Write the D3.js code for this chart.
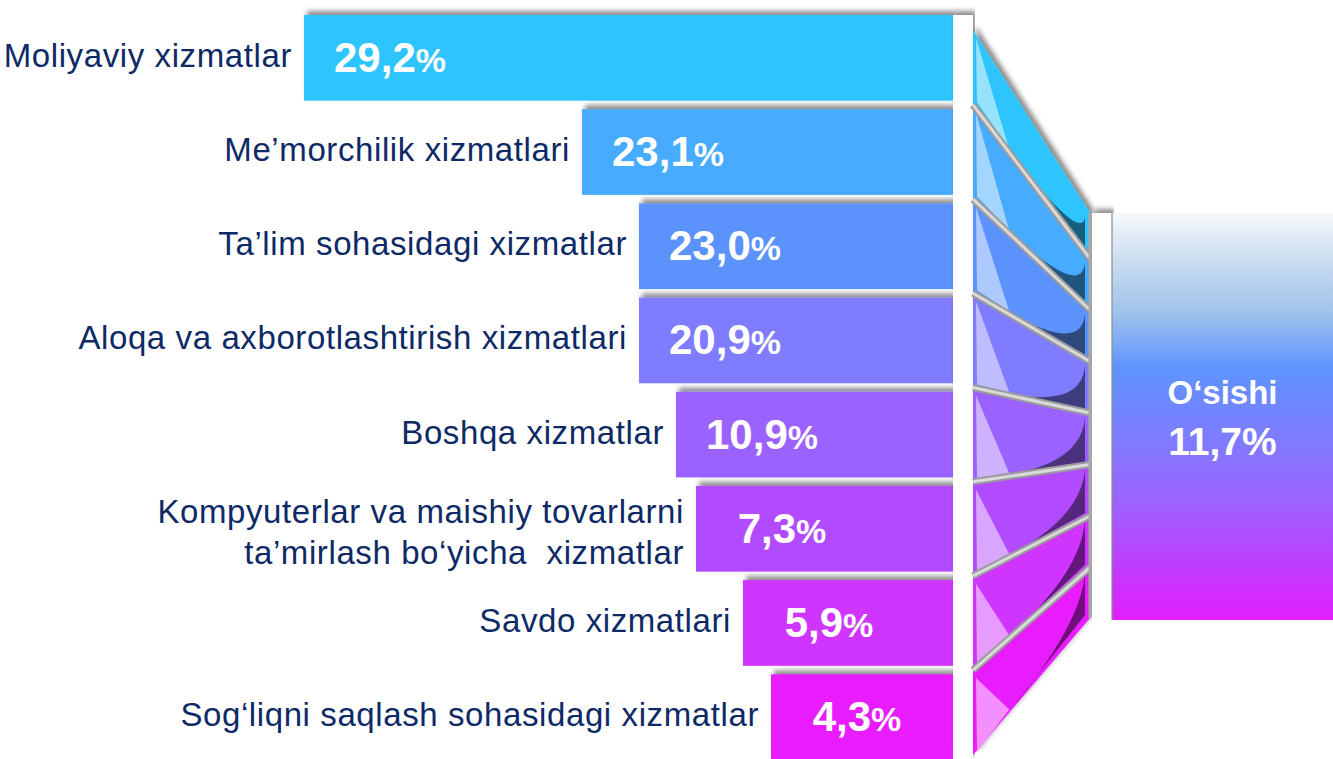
<!DOCTYPE html>
<html>
<head>
<meta charset="utf-8">
<script src="https://cdn.jsdelivr.net/npm/d3@7"></script>
<style>
  body { margin: 0; background: #fff; }
  svg { display: block; font-family: "Liberation Sans", Arial, sans-serif; }
</style>
</head>
<body>
<svg id="chart"></svg>
<script>
var width = 1333
var height = 759

var categories = [
  "Moliyaviy xizmatlar",
  "Me’morchilik xizmatlari",
  "Ta’lim sohasidagi xizmatlar",
  "Aloqa va axborotlashtirish xizmatlari",
  "Boshqa xizmatlar",
  "Kompyuterlar va maishiy tovarlarni\nta’mirlash bo‘yicha  xizmatlar",
  "Savdo xizmatlari",
  "Sog‘liqni saqlash sohasidagi xizmatlar"
]
var values = [29.2, 23.1, 23.0, 20.9, 10.9, 7.3, 5.9, 4.3]
var colors = ["#2EC5FF", "#47ABFF", "#5C92FC", "#7F7BFF", "#9C62FF", "#B24CFF", "#CF34FF", "#E81EFF"]
var growthTitle = "O‘sishi"
var growthValue = 11.7

var fmt = d3.formatLocale({decimal: ",", thousands: " ", grouping: [3], currency: ["", ""]}).format(".1f")

var svg = d3.select("#chart").attr("width", width).attr("height", height)
var defs = svg.append("defs")

var shadow = defs.append("filter").attr("id", "shadow")
  .attr("x", "-10%").attr("y", "-20%").attr("width", "120%").attr("height", "140%")
shadow.append("feDropShadow")
  .attr("dx", 3).attr("dy", -4).attr("stdDeviation", 2.5)
  .attr("flood-color", "#000").attr("flood-opacity", 0.45)

var grad = defs.append("linearGradient").attr("id", "growth")
  .attr("x1", 0).attr("y1", 0).attr("x2", 0).attr("y2", 1)
var stops = [[0, "#F6F9FC"], [0.12, "#CADCEF"], [0.25, "#9DC1EB"], [0.38, "#5E94FF"],
  [0.55, "#7E7CFF"], [0.71, "#9D62FF"], [0.87, "#C03CFF"], [1, "#E31EFF"]]
grad.selectAll("stop").data(stops).enter().append("stop")
  .attr("offset", function(d) { return d[0] })
  .attr("stop-color", function(d) { return d[1] })

var barEnd = 953
// bar lengths on the slide are not proportional to the shares
var len = d3.scaleLinear()
  .domain(d3.sort(values))
  .range([182, 210, 257, 277, 314, 314, 371, 649])

var y = d3.scaleBand().domain(categories).range([15, 760]).paddingInner(0.09)
var gap = y.step() - y.bandwidth()

// bars
svg.append("g").attr("filter", "url(#shadow)")
  .selectAll("rect").data(categories).enter().append("rect")
  .attr("x", function(d, i) { return barEnd - len(values[i]) })
  .attr("y", function(d) { return y(d) })
  .attr("width", function(d, i) { return len(values[i]) })
  .attr("height", y.bandwidth())
  .attr("fill", function(d, i) { return colors[i] })

// white strip after bars
svg.append("rect").attr("x", barEnd).attr("y", 15).attr("width", 20).attr("height", 744)
  .attr("fill", "#fff").attr("filter", "url(#shadow)")

// funnel connectors
var cx0 = 973, cx1 = 1090
var lb = [30].concat(categories.slice(1).map(function(c) { return y(c) - gap / 2 })).concat([755])
var rb = d3.range(9).map(function(i) { return i == 0 ? 213 : i == 8 ? 618 : 207 + 51.5 * i })

function onBottom(i, t) {
  return [cx0 + t * (cx1 - cx0), lb[i + 1] + t * (rb[i + 1] - lb[i + 1])]
}

var conn = svg.append("g").attr("filter", "url(#shadow)")
  .selectAll("g").data(categories).enter().append("g")

conn.append("path")
  .attr("d", function(d, i) {
    return "M" + cx0 + "," + lb[i] + "L" + cx1 + "," + rb[i] + "L" + cx1 + "," + rb[i + 1] + "L" + cx0 + "," + lb[i + 1] + "Z"
  })
  .attr("fill", function(d, i) { return colors[i] })

conn.append("path")
  .attr("d", function(d, i) {
    var p = onBottom(i, 0.31)
    return "M" + (cx0 + 3) + "," + (lb[i] + 8) + "L" + (cx0 + 4) + "," + (lb[i + 1] - 3) + "L" + p[0] + "," + (p[1] - 3) + "Z"
  })
  .attr("fill", function(d, i) { return d3.interpolateRgb(colors[i], "#fff")(0.5) })

conn.append("path")
  .attr("d", function(d, i) {
    var p = onBottom(i, 0.31)
    var c = onBottom(i, 0.93)
    var top = rb[i] + 0.08 * (rb[i + 1] - rb[i])
    return "M" + p[0] + "," + (p[1] - 2) + "L" + (cx1 - 5) + "," + (rb[i + 1] - 3) +
      "L" + (cx1 - 5) + "," + top + "Q" + c[0] + "," + (c[1] - 3) + " " + p[0] + "," + (p[1] - 2) + "Z"
  })
  .attr("fill", function(d, i) { return d3.color(colors[i]).darker(2) })

var seps = svg.append("g").selectAll("g").data(d3.range(1, 8)).enter().append("g")
seps.append("line").attr("stroke", "#9B9B9B").attr("stroke-width", 7)
seps.append("line").attr("stroke", "#DADADA").attr("stroke-width", 3)
seps.selectAll("line")
  .attr("x1", cx0).attr("x2", cx1)
  .attr("y1", function() { return lb[d3.select(this.parentNode).datum()] })
  .attr("y2", function() { return rb[d3.select(this.parentNode).datum()] })

svg.append("line").attr("x1", cx1).attr("x2", cx1).attr("y1", rb[0]).attr("y2", rb[8])
  .attr("stroke", "#A8A8A8").attr("stroke-width", 3)

// growth box
svg.append("rect").attr("x", 1092).attr("y", 213).attr("width", 20).attr("height", 407)
  .attr("fill", "#fff").attr("filter", "url(#shadow)")
svg.append("rect").attr("x", 1112).attr("y", 213).attr("width", width - 1112).attr("height", 407)
  .attr("fill", "url(#growth)")
svg.append("line").attr("x1", 1112).attr("x2", 1112).attr("y1", 213).attr("y2", 620)
  .attr("stroke", "#8C8C8C").attr("stroke-width", 1.2)

var gx = (1112 + width) / 2
svg.append("text").attr("x", gx).attr("y", 404).attr("text-anchor", "middle")
  .attr("fill", "#fff").attr("font-weight", "bold").attr("font-size", 33).text(growthTitle)
svg.append("text").attr("x", gx).attr("y", 455).attr("text-anchor", "middle")
  .attr("fill", "#fff").attr("font-weight", "bold").attr("font-size", 39).text(fmt(growthValue) + "%")

// value labels
var vt = svg.append("g").selectAll("text").data(categories).enter().append("text")
  .attr("x", function(d, i) { return barEnd - len(values[i]) + 86 })
  .attr("y", function(d) { return y(d) + y.bandwidth() / 2 + 14 })
  .attr("text-anchor", "middle")
  .attr("fill", "#fff").attr("font-weight", "bold")
vt.append("tspan").attr("font-size", 42).text(function(d, i) { return fmt(values[i]) })
vt.append("tspan").attr("font-size", 34).text("%")

// category labels
var lt = svg.append("g").selectAll("text").data(categories).enter().append("text")
  .attr("text-anchor", "end")
  .attr("fill", "#0E2A66").attr("font-size", 33).attr("letter-spacing", 0.6)
lt.each(function(d, i) {
  var lines = d.split("\n")
  var x = barEnd - len(values[i]) - 12
  var mid = y(d) + y.bandwidth() / 2
  d3.select(this).selectAll("tspan").data(lines).enter().append("tspan")
    .attr("x", x)
    .attr("y", function(l, j) { return lines.length == 1 ? mid + 9 : mid - 6 + j * 41 })
    .style("white-space", "pre")
    .text(function(l) { return l })
})
</script>
</body>
</html>
